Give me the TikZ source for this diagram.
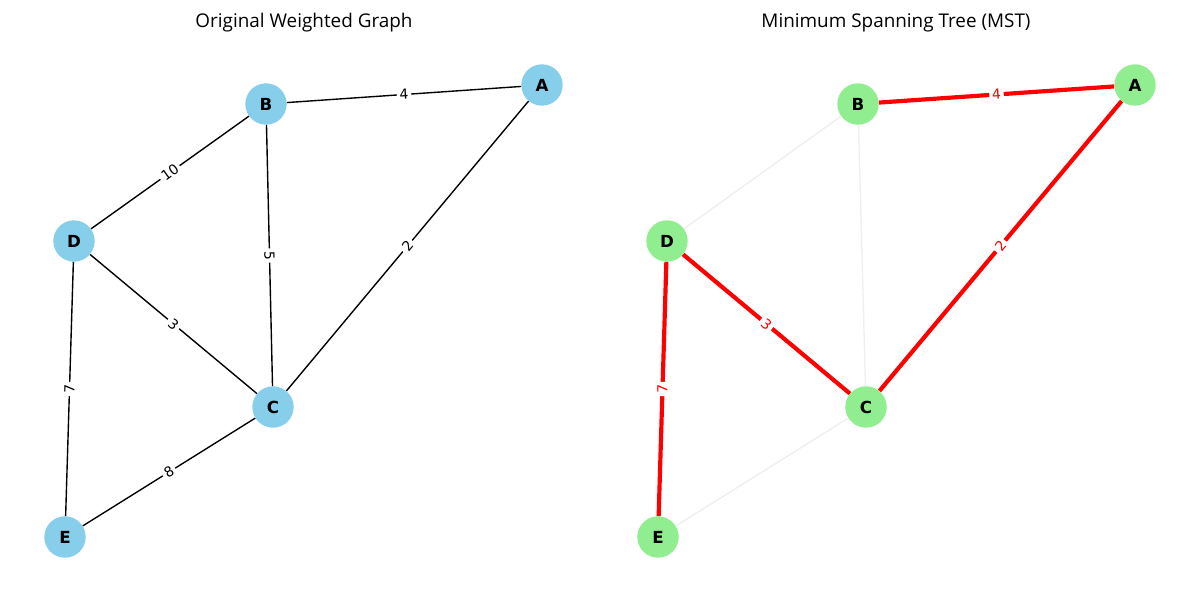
\documentclass[tikz,border=0pt]{standalone}
\usepackage{fontspec}
\setmainfont{DejaVu Sans}
\newfontfamily\titlefont{Open Sans}
\definecolor{skyblue}{HTML}{87CEEB}
\definecolor{lgreen}{HTML}{90EE90}
\definecolor{faint}{HTML}{EFEFEF}
\begin{document}
\begin{tikzpicture}[x=0.72pt,y=-0.72pt,
  vtx/.style={circle,minimum size=29.8pt,inner sep=0pt,font=\fontsize{12}{14}\selectfont\bfseries},
  bluev/.style={vtx,fill=skyblue},
  greenv/.style={vtx,fill=lgreen},
  edgeb/.style={draw=black,line width=1pt},
  edgem/.style={draw=red,line width=3pt},
  edgef/.style={draw=faint,line width=1pt},
  lbl/.style={midway,sloped,fill=white,inner sep=2pt,font=\fontsize{10}{12}\selectfont},
  lblr/.style={lbl,text=red},
  ttl/.style={font=\titlefont\fontsize{13.6}{16}\selectfont}
]
\useasboundingbox (0,0) rectangle (1200,600);
% titles
\node[ttl] (t1) at (304,23) {Original Weighted Graph};
\node[ttl] (t2) at (896,23) {Minimum Spanning Tree (MST)};
% left graph nodes
\node[bluev] (A) at (542,85) {A};
\node[bluev] (B) at (266,104) {B};
\node[bluev] (D) at (74,241) {D};
\node[bluev] (C) at (273,407) {C};
\node[bluev] (E) at (65,537) {E};
% left edges
\path[edgeb] (B) -- (A) node[lbl] {4};
\path[edgeb] (D) -- (B) node[lbl] {10};
\path[edgeb] (B) -- (C) node[lbl] {5};
\path[edgeb] (C) -- (A) node[lbl] {2};
\path[edgeb] (D) -- (C) node[lbl] {3};
\path[edgeb] (D) -- (E) node[lbl] {7};
\path[edgeb] (E) -- (C) node[lbl] {8};
% right graph nodes
\node[greenv] (A2) at (1135,85) {A};
\node[greenv] (B2) at (858,104) {B};
\node[greenv] (D2) at (667,241) {D};
\node[greenv] (C2) at (866,407) {C};
\node[greenv] (E2) at (658,537) {E};
% right faint edges
\path[edgef] (D2) -- (B2);
\path[edgef] (B2) -- (C2);
\path[edgef] (E2) -- (C2);
% MST edges
\path[edgem] (B2) -- (A2) node[lblr] {4};
\path[edgem] (C2) -- (A2) node[lblr] {2};
\path[edgem] (D2) -- (C2) node[lblr] {3};
\path[edgem] (D2) -- (E2) node[lblr] {7};
\end{tikzpicture}
\end{document}
